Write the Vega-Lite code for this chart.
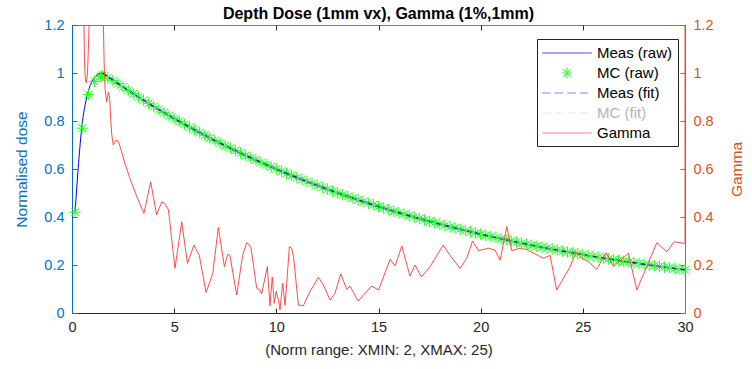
{
  "$schema": "https://vega.github.io/schema/vega-lite/v6.json",
  "autosize": "none",
  "width": 613,
  "height": 288,
  "padding": {"left": 72, "top": 25, "right": 67, "bottom": 56},
  "background": "white",
  "config": {"view": {"stroke": "#7a7a7a", "strokeWidth": 1}, "font": "Liberation Sans"},
  "title": {"text": "Depth Dose (1mm vx), Gamma (1%,1mm)", "fontSize": 16, "fontWeight": "bold", "font": "Liberation Sans", "color": "#000000", "offset": -5, "anchor": "middle"},
  "datasets": {
    "dose": [
      {"x": 0.15, "m": 0.42, "c": 0.42},
      {"x": 0.3, "m": 0.6},
      {"x": 0.5, "m": 0.79, "c": 0.77},
      {"x": 0.65, "m": 0.87},
      {"x": 0.8, "m": 0.925, "c": 0.91},
      {"x": 0.95, "m": 0.96},
      {"x": 1.1, "m": 0.982, "c": 0.965},
      {"x": 1.25, "m": 0.994},
      {"x": 1.4, "m": 0.999, "c": 0.985},
      {"x": 1.5, "m": 1.0, "c": 0.99},
      {"x": 1.75, "m": 0.9851, "c": 0.98},
      {"x": 2.0, "m": 0.9703, "c": 0.968},
      {"x": 2.25, "m": 0.9558, "c": 0.9558},
      {"x": 2.5, "m": 0.9416, "c": 0.9416},
      {"x": 2.75, "m": 0.9275, "c": 0.9275},
      {"x": 3.0, "m": 0.9137, "c": 0.9137},
      {"x": 3.25, "m": 0.9, "c": 0.9},
      {"x": 3.5, "m": 0.8866, "c": 0.8866},
      {"x": 3.75, "m": 0.8734, "c": 0.8734},
      {"x": 4.0, "m": 0.8603, "c": 0.8603},
      {"x": 4.25, "m": 0.8474, "c": 0.8474},
      {"x": 4.5, "m": 0.8348, "c": 0.8348},
      {"x": 4.75, "m": 0.8223, "c": 0.8223},
      {"x": 5.0, "m": 0.8101, "c": 0.8101},
      {"x": 5.25, "m": 0.798, "c": 0.798},
      {"x": 5.5, "m": 0.7861, "c": 0.7861},
      {"x": 5.75, "m": 0.7744, "c": 0.7744},
      {"x": 6.0, "m": 0.7628, "c": 0.7628},
      {"x": 6.25, "m": 0.7514, "c": 0.7514},
      {"x": 6.5, "m": 0.7402, "c": 0.7402},
      {"x": 6.75, "m": 0.7291, "c": 0.7291},
      {"x": 7.0, "m": 0.7182, "c": 0.7182},
      {"x": 7.25, "m": 0.7075, "c": 0.7075},
      {"x": 7.5, "m": 0.6969, "c": 0.6969},
      {"x": 7.75, "m": 0.6865, "c": 0.6865},
      {"x": 8.0, "m": 0.6763, "c": 0.6763},
      {"x": 8.25, "m": 0.6662, "c": 0.6662},
      {"x": 8.5, "m": 0.6562, "c": 0.6562},
      {"x": 8.75, "m": 0.6464, "c": 0.6464},
      {"x": 9.0, "m": 0.6368, "c": 0.6368},
      {"x": 9.25, "m": 0.6273, "c": 0.6273},
      {"x": 9.5, "m": 0.6179, "c": 0.6179},
      {"x": 9.75, "m": 0.6087, "c": 0.6087},
      {"x": 10.0, "m": 0.5996, "c": 0.5996},
      {"x": 10.25, "m": 0.5906, "c": 0.5906},
      {"x": 10.5, "m": 0.5818, "c": 0.5818},
      {"x": 10.75, "m": 0.5731, "c": 0.5731},
      {"x": 11.0, "m": 0.5645, "c": 0.5645},
      {"x": 11.25, "m": 0.5561, "c": 0.5561},
      {"x": 11.5, "m": 0.5478, "c": 0.5478},
      {"x": 11.75, "m": 0.5396, "c": 0.5396},
      {"x": 12.0, "m": 0.5316, "c": 0.5316},
      {"x": 12.25, "m": 0.5237, "c": 0.5237},
      {"x": 12.5, "m": 0.5158, "c": 0.5158},
      {"x": 12.75, "m": 0.5081, "c": 0.5081},
      {"x": 13.0, "m": 0.5005, "c": 0.5005},
      {"x": 13.25, "m": 0.493, "c": 0.493},
      {"x": 13.5, "m": 0.4857, "c": 0.4857},
      {"x": 13.75, "m": 0.4784, "c": 0.4784},
      {"x": 14.0, "m": 0.4713, "c": 0.4713},
      {"x": 14.25, "m": 0.4643, "c": 0.4643},
      {"x": 14.5, "m": 0.4573, "c": 0.4573},
      {"x": 14.75, "m": 0.4505, "c": 0.4505},
      {"x": 15.0, "m": 0.4437, "c": 0.4437},
      {"x": 15.25, "m": 0.4371, "c": 0.4371},
      {"x": 15.5, "m": 0.4306, "c": 0.4306},
      {"x": 15.75, "m": 0.4242, "c": 0.4242},
      {"x": 16.0, "m": 0.4178, "c": 0.4178},
      {"x": 16.25, "m": 0.4116, "c": 0.4116},
      {"x": 16.5, "m": 0.4054, "c": 0.4054},
      {"x": 16.75, "m": 0.3993, "c": 0.3993},
      {"x": 17.0, "m": 0.3934, "c": 0.3934},
      {"x": 17.25, "m": 0.3875, "c": 0.3875},
      {"x": 17.5, "m": 0.3817, "c": 0.3817},
      {"x": 17.75, "m": 0.376, "c": 0.376},
      {"x": 18.0, "m": 0.3704, "c": 0.3704},
      {"x": 18.25, "m": 0.3649, "c": 0.3649},
      {"x": 18.5, "m": 0.3594, "c": 0.3594},
      {"x": 18.75, "m": 0.354, "c": 0.354},
      {"x": 19.0, "m": 0.3488, "c": 0.3488},
      {"x": 19.25, "m": 0.3436, "c": 0.3436},
      {"x": 19.5, "m": 0.3384, "c": 0.3384},
      {"x": 19.75, "m": 0.3333, "c": 0.3333},
      {"x": 20.0, "m": 0.3284, "c": 0.3284},
      {"x": 20.25, "m": 0.3235, "c": 0.3235},
      {"x": 20.5, "m": 0.3187, "c": 0.3187},
      {"x": 20.75, "m": 0.3139, "c": 0.3139},
      {"x": 21.0, "m": 0.3092, "c": 0.3092},
      {"x": 21.25, "m": 0.3046, "c": 0.3046},
      {"x": 21.5, "m": 0.3, "c": 0.3},
      {"x": 21.75, "m": 0.2955, "c": 0.2955},
      {"x": 22.0, "m": 0.2911, "c": 0.2911},
      {"x": 22.25, "m": 0.2868, "c": 0.2868},
      {"x": 22.5, "m": 0.2825, "c": 0.2825},
      {"x": 22.75, "m": 0.2783, "c": 0.2783},
      {"x": 23.0, "m": 0.2741, "c": 0.2741},
      {"x": 23.25, "m": 0.27, "c": 0.27},
      {"x": 23.5, "m": 0.266, "c": 0.266},
      {"x": 23.75, "m": 0.262, "c": 0.262},
      {"x": 24.0, "m": 0.2581, "c": 0.2581},
      {"x": 24.25, "m": 0.2542, "c": 0.2542},
      {"x": 24.5, "m": 0.2505, "c": 0.2505},
      {"x": 24.75, "m": 0.2468, "c": 0.2468},
      {"x": 25.0, "m": 0.243, "c": 0.243},
      {"x": 25.25, "m": 0.2394, "c": 0.2394},
      {"x": 25.5, "m": 0.2358, "c": 0.2358},
      {"x": 25.75, "m": 0.2323, "c": 0.2323},
      {"x": 26.0, "m": 0.2288, "c": 0.2288},
      {"x": 26.25, "m": 0.2254, "c": 0.2254},
      {"x": 26.5, "m": 0.222, "c": 0.222},
      {"x": 26.75, "m": 0.2187, "c": 0.2187},
      {"x": 27.0, "m": 0.2155, "c": 0.2155},
      {"x": 27.25, "m": 0.2123, "c": 0.2123},
      {"x": 27.5, "m": 0.2091, "c": 0.2091},
      {"x": 27.75, "m": 0.206, "c": 0.206},
      {"x": 28.0, "m": 0.2029, "c": 0.2029},
      {"x": 28.25, "m": 0.1999, "c": 0.1999},
      {"x": 28.5, "m": 0.1969, "c": 0.1969},
      {"x": 28.75, "m": 0.194, "c": 0.194},
      {"x": 29.0, "m": 0.191, "c": 0.191},
      {"x": 29.25, "m": 0.1881, "c": 0.1881},
      {"x": 29.5, "m": 0.1853, "c": 0.1853},
      {"x": 29.75, "m": 0.1825, "c": 0.1825},
      {"x": 30.0, "m": 0.1799, "c": 0.1799}
    ],
    "gamma": [
      {"x": 0.45, "g": 3.0}, {"x": 0.57, "g": 1.3}, {"x": 0.61, "g": 1.05}, {"x": 0.66, "g": 0.965},
      {"x": 0.71, "g": 0.96}, {"x": 0.76, "g": 1.0}, {"x": 0.82, "g": 1.15}, {"x": 0.88, "g": 1.35},
      {"x": 0.95, "g": 3.0}, {"x": 1.45, "g": 3.0}, {"x": 1.52, "g": 1.3}, {"x": 1.57, "g": 1.05},
      {"x": 1.62, "g": 0.93}, {"x": 1.7, "g": 0.88}, {"x": 1.78, "g": 0.92}, {"x": 1.84, "g": 0.9},
      {"x": 1.9, "g": 0.8}, {"x": 1.95, "g": 0.74}, {"x": 2.02, "g": 0.7}, {"x": 2.15, "g": 0.72},
      {"x": 2.27, "g": 0.715}, {"x": 2.4, "g": 0.68}, {"x": 2.6, "g": 0.62}, {"x": 2.84, "g": 0.56},
      {"x": 3.17, "g": 0.485}, {"x": 3.52, "g": 0.415}, {"x": 3.85, "g": 0.547}, {"x": 4.14, "g": 0.41},
      {"x": 4.39, "g": 0.462}, {"x": 4.55, "g": 0.455}, {"x": 4.72, "g": 0.43}, {"x": 5.04, "g": 0.186},
      {"x": 5.37, "g": 0.38}, {"x": 5.65, "g": 0.207}, {"x": 5.97, "g": 0.283}, {"x": 6.23, "g": 0.24},
      {"x": 6.56, "g": 0.085}, {"x": 6.89, "g": 0.165}, {"x": 7.16, "g": 0.357}, {"x": 7.46, "g": 0.193},
      {"x": 7.62, "g": 0.245}, {"x": 7.73, "g": 0.24}, {"x": 8.06, "g": 0.075}, {"x": 8.35, "g": 0.24},
      {"x": 8.55, "g": 0.293}, {"x": 8.75, "g": 0.277}, {"x": 9.04, "g": 0.103}, {"x": 9.2, "g": 0.096},
      {"x": 9.28, "g": 0.079}, {"x": 9.56, "g": 0.193}, {"x": 9.69, "g": 0.03}, {"x": 9.8, "g": 0.15},
      {"x": 9.9, "g": 0.04}, {"x": 9.99, "g": 0.09}, {"x": 10.1, "g": 0.054}, {"x": 10.18, "g": 0.0125},
      {"x": 10.31, "g": 0.124}, {"x": 10.43, "g": 0.033}, {"x": 10.64, "g": 0.277}, {"x": 10.75, "g": 0.27},
      {"x": 10.84, "g": 0.235}, {"x": 11.08, "g": 0.033}, {"x": 11.32, "g": 0.03}, {"x": 11.65, "g": 0.09},
      {"x": 12.06, "g": 0.149}, {"x": 12.3, "g": 0.117}, {"x": 12.63, "g": 0.054}, {"x": 12.87, "g": 0.082},
      {"x": 13.15, "g": 0.1625}, {"x": 13.45, "g": 0.099}, {"x": 13.6, "g": 0.1125}, {"x": 14.0, "g": 0.05},
      {"x": 14.67, "g": 0.1125}, {"x": 15.0, "g": 0.096}, {"x": 15.57, "g": 0.224}, {"x": 15.81, "g": 0.196},
      {"x": 16.14, "g": 0.279}, {"x": 16.54, "g": 0.154}, {"x": 16.79, "g": 0.2}, {"x": 17.1, "g": 0.15},
      {"x": 17.52, "g": 0.193}, {"x": 18.17, "g": 0.283}, {"x": 18.5, "g": 0.24}, {"x": 18.99, "g": 0.186},
      {"x": 19.32, "g": 0.228}, {"x": 19.6, "g": 0.3}, {"x": 19.89, "g": 0.26}, {"x": 20.38, "g": 0.27},
      {"x": 20.7, "g": 0.2625}, {"x": 20.95, "g": 0.22}, {"x": 21.28, "g": 0.36}, {"x": 21.52, "g": 0.26},
      {"x": 21.93, "g": 0.27}, {"x": 22.3, "g": 0.2625}, {"x": 23.07, "g": 0.228}, {"x": 23.4, "g": 0.24},
      {"x": 23.72, "g": 0.096}, {"x": 24.38, "g": 0.193}, {"x": 24.67, "g": 0.255}, {"x": 24.95, "g": 0.228},
      {"x": 25.27, "g": 0.214}, {"x": 25.68, "g": 0.182}, {"x": 26.14, "g": 0.251}, {"x": 26.5, "g": 0.193},
      {"x": 27.23, "g": 0.249}, {"x": 27.64, "g": 0.096}, {"x": 28.13, "g": 0.193}, {"x": 28.62, "g": 0.293},
      {"x": 29.11, "g": 0.255}, {"x": 29.47, "g": 0.297}, {"x": 29.97, "g": 0.29}, {"x": 30.0, "g": 0.29},
      {"x": 30.0, "g": 3.0}
    ]
  },
  "layer": [
    {
      "data": {"name": "dose"},
      "encoding": {
        "x": {
          "field": "x", "type": "quantitative",
          "scale": {"domain": [0, 30], "nice": false, "zero": false},
          "axis": {
            "orient": "bottom",
            "title": "(Norm range: XMIN: 2, XMAX: 25)", "values": [0, 5, 10, 15, 20, 25, 30], "format": "~g",
            "grid": false, "domainColor": "#262626", "tickColor": "#262626", "tickSize": -5,
            "labelPadding": 12, "labelColor": "#262626", "labelFontSize": 14.5, "labelFont": "Liberation Sans",
            "titleColor": "#262626", "titleFontSize": 15, "titleFontWeight": "normal", "titleFont": "Liberation Sans",
            "titlePadding": 9, "labelFlush": false
          }
        }
      },
      "layer": [
        {
          "mark": {"type": "line", "color": "#0000ff", "strokeWidth": 1, "interpolate": "monotone"},
          "encoding": {
            "y": {
              "field": "m", "type": "quantitative",
              "scale": {"domain": [0, 1.2], "nice": false},
              "axis": {
                "orient": "left", "title": "Normalised dose", "values": [0, 0.2, 0.4, 0.6, 0.8, 1, 1.2], "format": "~g",
                "grid": false, "domainColor": "#0072BD", "tickColor": "#0072BD", "labelColor": "#0072BD",
                "titleColor": "#0072BD", "tickSize": -5, "labelPadding": 13, "labelFontSize": 14.5,
                "labelFont": "Liberation Sans", "titleFontSize": 15.5, "titleFontWeight": "normal",
                "titleFont": "Liberation Sans", "titlePadding": 14, "labelFlush": false
              }
            }
          }
        },
        {
          "mark": {"type": "point", "filled": false, "color": "#22ff22", "strokeWidth": 1, "size": 130, "opacity": 1,
                   "shape": "M-1,0H1M0,-1V1M-0.7,-0.7L0.7,0.7M-0.7,0.7L0.7,-0.7"},
          "encoding": {"y": {"field": "c", "type": "quantitative"}}
        },
        {
          "transform": [{"filter": "datum.x >= 1.5"}],
          "mark": {"type": "line", "color": "#1c1cb0", "strokeWidth": 1.4, "strokeDash": [5, 3]},
          "encoding": {"y": {"field": "m", "type": "quantitative"}}
        },
        {
          "transform": [{"filter": "datum.x >= 1.5"}],
          "mark": {"type": "line", "color": "#b8f5b8", "strokeWidth": 1, "strokeDash": [6, 4], "opacity": 0.6},
          "encoding": {"y": {"field": "c", "type": "quantitative"}}
        },
        {
          "transform": [{"filter": "false"}],
          "mark": {"type": "point", "filled": false, "strokeWidth": 1},
          "encoding": {
            "y": {"field": "m", "type": "quantitative"},
            "color": {
              "field": "s", "type": "nominal",
              "scale": {"domain": ["Meas (raw)", "MC (raw)", "Meas (fit)", "MC (fit)", "Gamma"],
                        "range": ["#0000ff", "#00ee00", "#4d4dff", "#c4f2c4", "#ff5050"]},
              "legend": {
                "title": null, "orient": "none", "legendX": 465, "legendY": 14,
                "strokeColor": "#262626", "fillColor": "white", "padding": 5,
                "symbolSize": 256, "symbolStrokeWidth": 1.2, "symbolOffset": 16, "labelOffset": 21,
                "labelFont": "Liberation Sans", "labelFontSize": 15,
                "labelColor": {"expr": "datum.value === 'MC (fit)' ? '#b4b4b4' : '#000000'"},
                "rowPadding": 3, "labelLimit": 200
              }
            },
            "shape": {
              "field": "s", "type": "nominal",
              "scale": {"domain": ["Meas (raw)", "MC (raw)", "Meas (fit)", "MC (fit)", "Gamma"],
                        "range": ["M-3.1,0H3.1",
                                  "M-0.65,0H0.65M0,-0.65V0.65M-0.46,-0.46L0.46,0.46M-0.46,0.46L0.46,-0.46",
                                  "M-3.1,0H-2.05M-1.55,0H-0.5M0.05,0H1.1M1.6,0H2.65",
                                  "M-3.1,0H-2.05M-1.55,0H-0.5M0.05,0H1.1M1.6,0H2.65",
                                  "M-3.1,0H3.1"]},
              "legend": {
                "title": null, "orient": "none", "legendX": 465, "legendY": 14,
                "strokeColor": "#262626", "fillColor": "white", "padding": 5,
                "symbolSize": 256, "symbolStrokeWidth": 1.2, "symbolOffset": 16, "labelOffset": 21,
                "labelFont": "Liberation Sans", "labelFontSize": 15,
                "labelColor": {"expr": "datum.value === 'MC (fit)' ? '#b4b4b4' : '#000000'"},
                "rowPadding": 3, "labelLimit": 200
              }
            }
          }
        }
      ]
    },
    {
      "data": {"name": "gamma"},
      "mark": {"type": "line", "color": "#ff3838", "strokeWidth": 1, "clip": true, "opacity": 0.9},
      "encoding": {
        "x": {
          "field": "x", "type": "quantitative",
          "axis": {"orient": "top", "labels": false, "title": null, "domain": false, "grid": false,
                   "values": [0, 5, 10, 15, 20, 25, 30], "tickColor": "#262626", "tickSize": -5}
        },
        "y": {
          "field": "g", "type": "quantitative",
          "scale": {"domain": [0, 1.2], "nice": false},
          "axis": {
            "orient": "right", "title": "Gamma", "values": [0, 0.2, 0.4, 0.6, 0.8, 1, 1.2], "format": "~g",
            "grid": false, "domainColor": "#D95319", "tickColor": "#D95319", "labelColor": "#D95319",
            "titleColor": "#D95319", "tickSize": -5, "labelPadding": 13, "labelFontSize": 14.5,
            "labelFont": "Liberation Sans", "titleFontSize": 15.5, "titleFontWeight": "normal",
            "titleFont": "Liberation Sans", "titlePadding": 31, "titleAngle": 270, "labelFlush": false
          }
        }
      }
    }
  ],
  "resolve": {"scale": {"y": "independent"}, "axis": {"x": "independent"}}
}
